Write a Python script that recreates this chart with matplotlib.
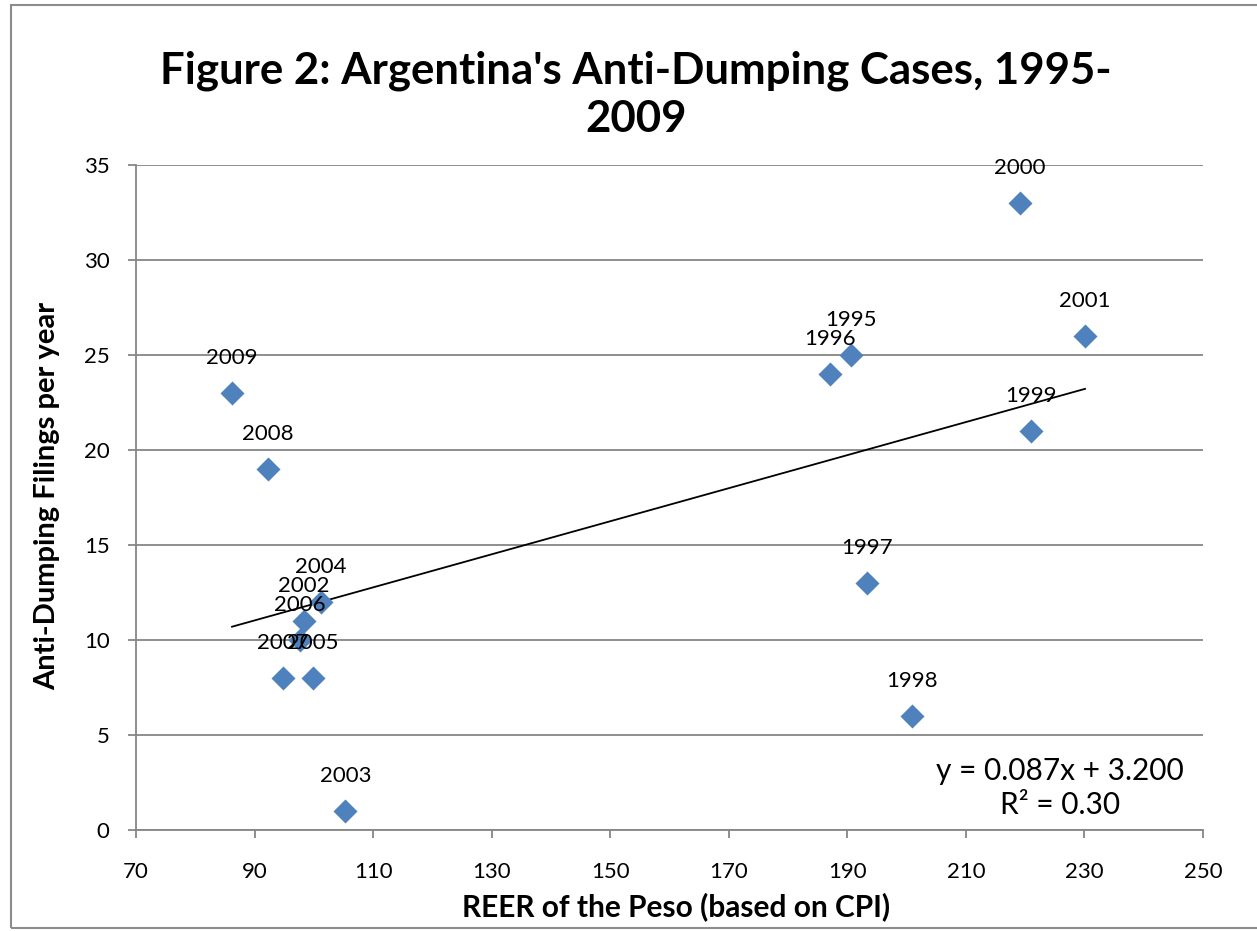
import matplotlib
matplotlib.use("Agg")
import matplotlib.pyplot as plt
from matplotlib.patches import Rectangle
import numpy as np

years = ["1995", "1996", "1997", "1998", "1999", "2000", "2001", "2002",
         "2003", "2004", "2005", "2006", "2007", "2008", "2009"]
reer = [190.6, 187.1, 193.3, 200.9, 221.0, 219.1, 230.1, 98.3,
        105.3, 101.2, 99.9, 97.6, 94.8, 92.3, 86.2]
filings = [25, 24, 13, 6, 21, 33, 26, 11, 1, 12, 8, 10, 8, 19, 23]
slope = 0.087
intercept = 3.200
r2 = 0.30

FONT = ["Lato", "DejaVu Sans"]
plt.rcParams["font.family"] = FONT

W, H = 1257, 931
fig = plt.figure(figsize=(W / 100, H / 100), dpi=100)
fig.patch.set_facecolor("white")

# outer chart border
fig.patches.append(Rectangle((11 / W, 1 - 928 / H), (W + 5 - 11) / W, (928 - 5) / H,
                             transform=fig.transFigure, fill=False,
                             edgecolor="#8c8c8c", linewidth=1.5, zorder=0))

L, R, T, B = 136, 1203, 165, 830
ax = fig.add_axes([L / W, 1 - B / H, (R - L) / W, (B - T) / H])
ax.set_xlim(70, 250)
ax.set_ylim(0, 35)
ax.set_xticks(np.arange(70, 251, 20))
ax.set_yticks(np.arange(0, 36, 5))
ax.grid(axis="y", color="#868686", linewidth=1.3)
ax.set_axisbelow(True)
for s in ["top", "right"]:
    ax.spines[s].set_visible(False)
for s in ["left", "bottom"]:
    ax.spines[s].set_color("#868686")
    ax.spines[s].set_linewidth(1.3)
ax.tick_params(axis="both", direction="out", length=6, width=1.3, color="#868686",
               labelsize=16)
ax.tick_params(axis="x", pad=17)
ax.tick_params(axis="y", pad=13)

ax.scatter(reer, filings, marker="D", s=150, color="#4F81BD", zorder=3, linewidths=0)

xs = np.array([min(reer), max(reer)])
ax.plot(xs, slope * xs + intercept, color="black", linewidth=1.3, zorder=2)

for yr, x, y in zip(years, reer, filings):
    ax.annotate(yr, (x, y), xytext=(0, 35), textcoords="offset pixels",
                ha="center", va="center", fontsize=16, zorder=4)

fig.text(676 / W, 1 - 907 / H, "REER of the Peso (based on CPI)",
         ha="center", va="center", fontsize=21.5, fontweight="bold")
fig.text(47 / W, 1 - 496 / H, "Anti-Dumping Filings per year", rotation=90,
         ha="center", va="center", fontsize=21, fontweight="bold")

fig.text(1060 / W, 1 - 788 / H, f"y = {slope:.3f}x + {intercept:.3f}\nR² = {r2:.2f}",
         ha="center", va="center", fontsize=21.5, linespacing=1.3)

fig.text(636 / W, 1 - 95 / H, "Figure 2: Argentina's Anti-Dumping Cases, 1995-\n2009",
         ha="center", va="center", fontsize=31.5, fontweight="bold", linespacing=1.24)

fig.savefig("out.png", dpi=100)
